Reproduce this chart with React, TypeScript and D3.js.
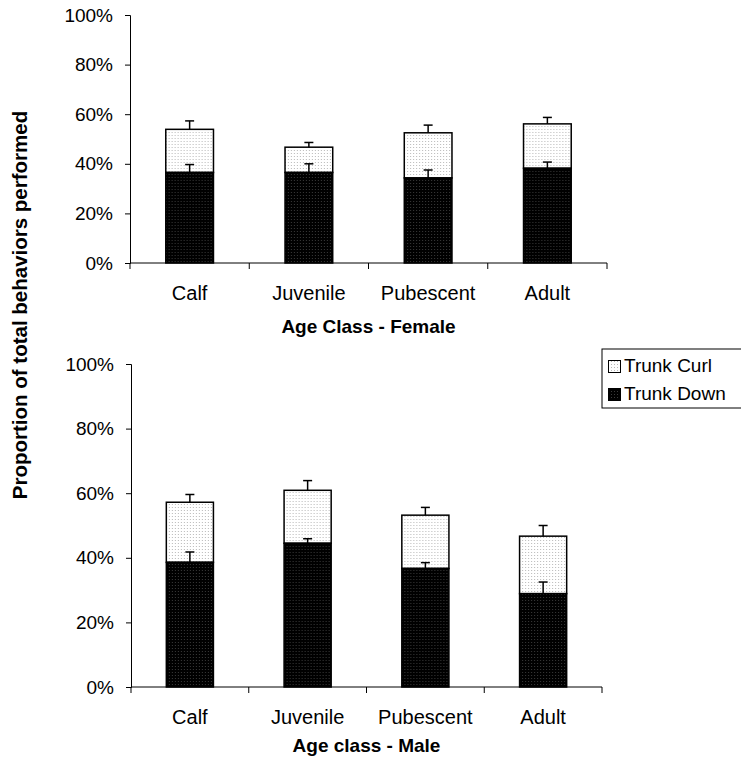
import * as d3 from "d3"
import { useEffect, useRef } from "react"

const categories = ["Calf", "Juvenile", "Pubescent", "Adult"]
const yTicks = [0, 0.2, 0.4, 0.6, 0.8, 1]

// proportions (%)
const femaleDown = [36.5, 36.5, 34.3, 38.2]
const femaleCurl = [17.4, 10.2, 18.2, 17.9]
const femaleDownErr = [3.2, 3.5, 3.2, 2.5]
const femaleCurlErr = [3.4, 1.9, 3.1, 2.6]

const maleDown = [38.6, 44.5, 36.7, 28.9]
const maleCurl = [18.6, 16.4, 16.5, 17.8]
const maleDownErr = [3.2, 1.4, 1.8, 3.6]
const maleCurlErr = [2.4, 3.0, 2.4, 3.3]

const seriesNames = ["Trunk Curl", "Trunk Down"]

const FONT = "'Liberation Sans', Arial, Helvetica, sans-serif"

const W = 741
const H = 757

const App = () => {
  const ref = useRef<SVGSVGElement>(null)

  useEffect(() => {
    const svg = d3.select(ref.current)
    svg.selectAll("*").remove()
    svg.attr("width", W).attr("height", H)

    const defs = svg.append("defs")
    const dark = defs
      .append("pattern")
      .attr("id", "dark")
      .attr("width", 3)
      .attr("height", 3)
      .attr("patternUnits", "userSpaceOnUse")
    dark.append("rect").attr("width", 3).attr("height", 3).attr("fill", "#000")
    dark.append("rect").attr("width", 1).attr("height", 1).attr("fill", "#3a3a3a")
    const light = defs
      .append("pattern")
      .attr("id", "light")
      .attr("width", 3)
      .attr("height", 3)
      .attr("patternUnits", "userSpaceOnUse")
    light.append("rect").attr("width", 3).attr("height", 3).attr("fill", "#fff")
    light.append("rect").attr("width", 1).attr("height", 1).attr("fill", "#b8b8b8")

    const panels = [
      {
        down: femaleDown,
        curl: femaleCurl,
        downErr: femaleDownErr,
        curlErr: femaleCurlErr,
        left: 130,
        right: 607,
        top: 15,
        bottom: 263,
        catY: 37,
        titleY: 70,
        title: "Age Class - Female",
      },
      {
        down: maleDown,
        curl: maleCurl,
        downErr: maleDownErr,
        curlErr: maleCurlErr,
        left: 131,
        right: 602,
        top: 364,
        bottom: 687,
        catY: 37,
        titleY: 65,
        title: "Age class - Male",
      },
    ]

    panels.forEach((p) => {
      const x = d3.scaleBand().domain(categories).range([p.left, p.right]).padding(0)
      const y = d3.scaleLinear().domain([0, 1]).range([p.bottom, p.top])
      const g = svg.append("g")

      const barW = x.bandwidth() * 0.4

      const rows = categories.map((c, i) => ({
        c,
        down: p.down[i] / 100,
        total: (p.down[i] + p.curl[i]) / 100,
        downErr: p.downErr[i] / 100,
        totalErr: p.curlErr[i] / 100,
      }))

      const bars = g
        .selectAll("g.bar")
        .data(rows)
        .enter()
        .append("g")
        .attr("transform", (d) => `translate(${x(d.c)! + x.bandwidth() / 2},0)`)

      // curl segment on top
      bars
        .append("rect")
        .attr("x", -barW / 2)
        .attr("width", barW)
        .attr("y", (d) => y(d.total))
        .attr("height", (d) => y(d.down) - y(d.total))
        .attr("fill", "url(#light)")
        .attr("stroke", "#000")
        .attr("stroke-width", 1.5)
      bars
        .append("rect")
        .attr("x", -barW / 2)
        .attr("width", barW)
        .attr("y", (d) => y(d.down))
        .attr("height", (d) => y(0) - y(d.down))
        .attr("fill", "url(#dark)")
        .attr("stroke", "#000")
        .attr("stroke-width", 1.5)

      // upper error bars
      const errs = (key: "down" | "total", ek: "downErr" | "totalErr") => {
        bars
          .append("line")
          .attr("x1", 0)
          .attr("x2", 0)
          .attr("y1", (d) => y(d[key]))
          .attr("y2", (d) => y(d[key] + d[ek]))
          .attr("stroke", "#000")
          .attr("stroke-width", 1.5)
        bars
          .append("line")
          .attr("x1", -4.5)
          .attr("x2", 4.5)
          .attr("y1", (d) => y(d[key] + d[ek]))
          .attr("y2", (d) => y(d[key] + d[ek]))
          .attr("stroke", "#000")
          .attr("stroke-width", 1.5)
      }
      errs("down", "downErr")
      errs("total", "totalErr")

      // y axis
      const ya = g
        .append("g")
        .attr("transform", `translate(${p.left},0)`)
        .call(
          d3
            .axisLeft(y)
            .tickValues(yTicks)
            .tickSize(5)
            .tickPadding(12)
            .tickFormat(d3.format(".0%"))
        )
      ya.select(".domain").attr("stroke", "#000")
      ya.selectAll("text").style("font-family", FONT).style("font-size", "19px").attr("fill", "#000")

      // x axis with ticks at band boundaries
      const xa = g.append("g").attr("transform", `translate(0,${p.bottom})`)
      xa.append("line")
        .attr("x1", p.left)
        .attr("x2", p.right)
        .attr("stroke", "#000")
      const edges = categories.map((c) => x(c)!).concat([p.right])
      xa.selectAll("line.tk")
        .data(edges)
        .enter()
        .append("line")
        .attr("x1", (d) => d)
        .attr("x2", (d) => d)
        .attr("y1", 0)
        .attr("y2", 6)
        .attr("stroke", "#000")
      xa.selectAll("text.cat")
        .data(categories)
        .enter()
        .append("text")
        .attr("x", (d) => x(d)! + x.bandwidth() / 2)
        .attr("y", p.catY)
        .attr("text-anchor", "middle")
        .style("font-family", FONT)
        .style("font-size", "20px")
        .text((d) => d)
      xa.append("text")
        .attr("x", (p.left + p.right) / 2)
        .attr("y", p.titleY)
        .attr("text-anchor", "middle")
        .style("font-family", FONT)
        .style("font-size", "19px")
        .style("font-weight", "bold")
        .text(p.title)
    })

    // y axis title
    svg
      .append("text")
      .attr("transform", "translate(27,305) rotate(-90)")
      .attr("text-anchor", "middle")
      .style("font-family", FONT)
      .style("font-size", "20.5px")
      .style("font-weight", "bold")
      .text("Proportion of total behaviors performed")

    // legend
    const lg = svg.append("g").attr("transform", "translate(602,349)")
    lg.append("rect")
      .attr("width", 140)
      .attr("height", 59)
      .attr("fill", "#fff")
      .attr("stroke", "#000")
    const fills = ["url(#light)", "url(#dark)"]
    seriesNames.forEach((name, i) => {
      lg.append("rect")
        .attr("x", 6.5)
        .attr("y", 11.5 + i * 28)
        .attr("width", 12)
        .attr("height", 12)
        .attr("fill", fills[i])
        .attr("stroke", "#000")
      lg.append("text")
        .attr("x", 22)
        .attr("y", 23 + i * 28)
        .style("font-family", FONT)
        .style("font-size", "19px")
        .text(name)
    })
  }, [])

  return (
    <div style={{ position: "absolute", left: 0, top: 0 }}>
      <svg ref={ref}></svg>
    </div>
  )
}

export default App
